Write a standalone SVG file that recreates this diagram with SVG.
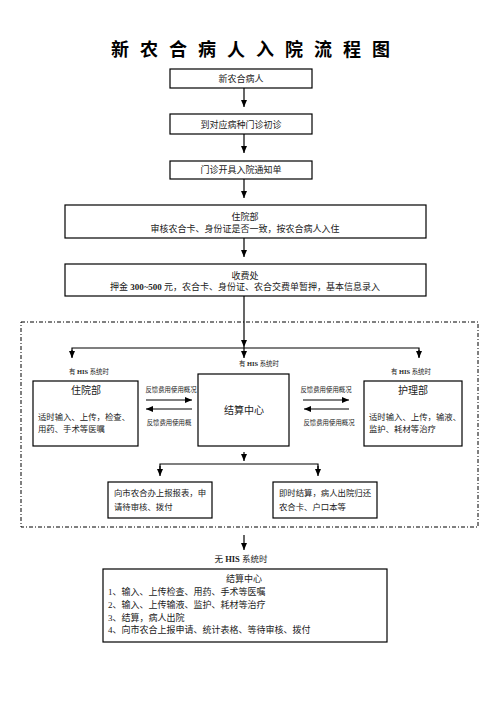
<svg xmlns="http://www.w3.org/2000/svg" width="496" height="702" viewBox="0 0 496 702">
<style>
text{font-family:"Liberation Serif","Noto Sans CJK SC",serif;fill:#222;}
.box{fill:#fff;stroke:#000;stroke-width:1.2;}
.ln{fill:none;stroke:#000;stroke-width:1.2;}
.t9{font-size:9px;}
.b8{font-size:8.4px;}
.t10{font-size:10px;}
.sm{font-size:6.4px;}
.c{text-anchor:middle;}
.dash{fill:none;stroke:#000;stroke-width:1;stroke-dasharray:4,2,1,2;}
</style>
<defs>
<marker id="ah" markerUnits="userSpaceOnUse" markerWidth="8" markerHeight="6" refX="7" refY="3" orient="auto">
<path d="M0,0 L7,3 L0,6 z" fill="#000"/>
</marker>
</defs>
<text x="256" y="56" class="c" style="font-size:18px;font-weight:bold;fill:#000;letter-spacing:11px">新农合病人入院流程图</text>

<rect class="dash" x="21" y="322" width="457" height="205"/>

<g id="connectors">
<line class="ln" x1="244" y1="88" x2="244" y2="107" marker-end="url(#ah)"/>
<line class="ln" x1="244" y1="134" x2="244" y2="153" marker-end="url(#ah)"/>
<line class="ln" x1="244" y1="179" x2="244" y2="198" marker-end="url(#ah)"/>
<line class="ln" x1="244" y1="238" x2="244" y2="257" marker-end="url(#ah)"/>
<line class="ln" x1="244" y1="296" x2="244" y2="347" marker-end="url(#ah)"/>
<line class="ln" x1="244" y1="347" x2="244" y2="358" marker-end="url(#ah)"/>
<polyline class="ln" points="72,357 72,348 419,348 419,357" />
<line class="ln" x1="72" y1="350" x2="72" y2="358" marker-end="url(#ah)"/>
<line class="ln" x1="419" y1="350" x2="419" y2="358" marker-end="url(#ah)"/>
<line class="ln" x1="146" y1="400" x2="192" y2="400" marker-end="url(#ah)"/>
<line class="ln" x1="192" y1="409" x2="146" y2="409" marker-end="url(#ah)"/>
<line class="ln" x1="303" y1="400" x2="349" y2="400" marker-end="url(#ah)"/>
<line class="ln" x1="349" y1="409" x2="304" y2="409" marker-end="url(#ah)"/>
<line class="ln" x1="244" y1="452" x2="244" y2="461" marker-end="url(#ah)"/>
<polyline class="ln" points="160,474 160,464 318,464 318,474"/>
<line class="ln" x1="160" y1="466" x2="160" y2="476" marker-end="url(#ah)"/>
<line class="ln" x1="318" y1="466" x2="318" y2="476" marker-end="url(#ah)"/>
<line class="ln" x1="244" y1="535" x2="244" y2="550" marker-end="url(#ah)"/>
</g>

<g id="n1"><rect class="box" x="170" y="69" width="142" height="19"/><text x="241" y="81.5" class="t9 c">新农合病人</text></g>
<g id="n2"><rect class="box" x="170" y="114" width="142" height="20"/><text x="241" y="127.5" class="t9 c">到对应病种门诊初诊</text></g>
<g id="n3"><rect class="box" x="170" y="161" width="142" height="18"/><text x="241" y="173" class="t9 c">门诊开具入院通知单</text></g>
<g id="n4"><rect class="box" x="65" y="205" width="361" height="33"/>
<text x="245" y="219.5" class="t9 c">住院部</text>
<text x="245" y="231.5" class="t9 c">审核农合卡、身份证是否一致，按农合病人入住</text></g>
<g id="n5"><rect class="box" x="65" y="264" width="361" height="32"/>
<text x="245" y="278.5" class="t9 c">收费处</text>
<text x="245" y="290" class="t9 c">押金 <tspan style="font-weight:bold">300~500</tspan> 元，农合卡、身份证、农合交费单暂押，基本信息录入</text></g>

<text x="89" y="374" class="sm c">有 <tspan font-weight="bold">HIS</tspan> 系统时</text>
<text x="259" y="366" class="sm c">有 <tspan font-weight="bold">HIS</tspan> 系统时</text>
<text x="411" y="374" class="sm c">有 <tspan font-weight="bold">HIS</tspan> 系统时</text>

<g id="n6"><rect class="box" x="33" y="381" width="105" height="65"/>
<text x="86" y="394" class="t10 c">住院部</text>
<text x="38" y="420" class="b8">适时输入、上传，检查、</text>
<text x="38" y="432" class="b8">用药、手术等医嘱</text></g>
<g id="n7"><rect class="box" x="198" y="374" width="91" height="72"/>
<text x="244" y="413.5" class="t10 c">结算中心</text></g>
<g id="n8"><rect class="box" x="364" y="381" width="98" height="65"/>
<text x="413" y="394" class="t10 c">护理部</text>
<text x="369" y="420" class="b8">适时输入、上传，输液、</text>
<text x="369" y="432" class="b8">监护、耗材等治疗</text></g>

<text x="171" y="392" class="sm c">反馈费用使用概况</text>
<text x="169" y="425" class="sm c">反馈费用使用概</text>
<text x="326" y="392" class="sm c">反馈费用使用概况</text>
<text x="329" y="425" class="sm c">反馈费用使用概况</text>

<g id="n9"><rect class="box" x="108" y="482" width="104" height="36"/>
<text x="114" y="496" class="b8">向市农合办上报报表，申</text>
<text x="114" y="510" class="b8">请待审核、拨付</text></g>
<g id="n10"><rect class="box" x="273" y="482" width="104" height="36"/>
<text x="279" y="496" class="b8">即时结算，病人出院归还</text>
<text x="279" y="510" class="b8">农合卡、户口本等</text></g>

<text x="241" y="562" class="c" style="font-size:8.5px">无 <tspan font-weight="bold">HIS</tspan> 系统时</text>

<g id="n11"><rect class="box" x="103" y="569" width="284" height="73"/>
<text x="244" y="582" class="t9 c">结算中心</text>
<text x="108" y="595" class="t9">1、输入、上传检查、用药、手术等医嘱</text>
<text x="108" y="608" class="t9">2、输入、上传输液、监护、耗材等治疗</text>
<text x="108" y="621" class="t9">3、结算，病人出院</text>
<text x="108" y="633" class="t9">4、向市农合上报申请、统计表格、等待审核、拨付</text></g>
</svg>
